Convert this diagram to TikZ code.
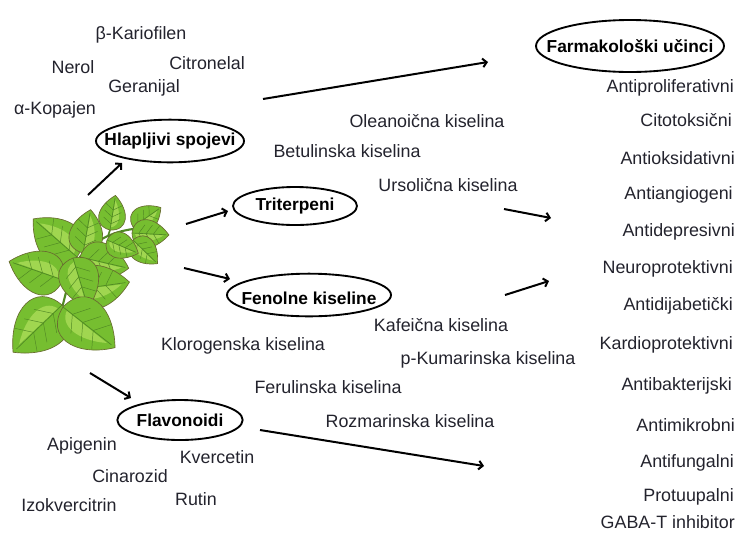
\documentclass[tikz,border=0pt]{standalone}
\usepackage{fontspec}
\setmainfont{Liberation Sans}
\usetikzlibrary{arrows.meta}
\definecolor{txt}{RGB}{35,35,45}
\definecolor{leafgreen}{RGB}{118,190,48}
\definecolor{leaflight}{RGB}{160,214,80}
\definecolor{leafedge}{RGB}{105,108,48}
\definecolor{leafvein}{RGB}{80,136,36}
\tikzset{
  lbl/.style={text=txt, font=\fontsize{13.4}{15}\selectfont, inner sep=0pt},
  effect/.style={lbl, anchor=east},
  grp/.style={font=\fontsize{13}{15}\selectfont\bfseries, inner sep=0pt},
  ring/.style={line width=1.4pt},
  arr/.style={-{Straight Barb[length=3pt,width=6.5pt]}, line width=1.5pt},
}
\newcommand{\mintleaf}[4]{%
  \begin{scope}[shift={(#1,#2)}, rotate=#3, scale=#4]
    \draw[fill=leafgreen, draw=leafedge, line width=0.5pt] (0,0) .. controls (0.05,0.52) and (0.6,0.5) .. (1,0) .. controls (0.6,-0.5) and (0.05,-0.52) .. (0,0);
    \fill[leaflight] (0.08,0.01) .. controls (0.14,0.26) and (0.5,0.26) .. (0.86,0.02) -- cycle;
    \draw[leafvein, line width=0.5pt] (0,0) -- (0.93,0);
    \foreach \t in {0.18,0.38,0.58} {
      \draw[leafvein, line width=0.35pt] (\t,0) -- (\t+0.16,0.24);
      \draw[leafvein, line width=0.35pt] (\t,0) -- (\t+0.16,-0.24);
    }
  \end{scope}}
\begin{document}
\begin{tikzpicture}[x=0.75pt, y=-0.75pt]
  \useasboundingbox (0,0) rectangle (738,533);
  % plant
  \draw[leafvein, line width=1.6pt] (62,308) .. controls (68,285) and (72,266) .. (80,257) .. controls (95,240) and (112,232) .. (133,229);
  \draw[leafvein, line width=1.2pt] (108,236) -- (110,230);
  \mintleaf{77}{257}{139}{58}
  \mintleaf{63}{280}{161}{57}
  \mintleaf{83}{253}{80}{44}
  \mintleaf{80}{257}{-13}{50}
  \mintleaf{73}{290}{8}{57}
  \mintleaf{110}{230}{81}{35}
  \mintleaf{133}{227}{35}{34}
  \mintleaf{132}{233}{-3}{37}
  \mintleaf{133}{240}{-44}{34}
  \mintleaf{107}{240}{-23}{34}
  \mintleaf{73}{258}{-73}{52}
  \mintleaf{62}{305}{-136}{68}
  \mintleaf{63}{307}{-38}{66}
  % volatile compounds
  \node[lbl] (kario) at (141,35) {β-Kariofilen};
  \node[lbl] (nerol) at (73,67) {Nerol};
  \node[lbl] (citro) at (207,63) {Citronelal};
  \node[lbl] (geran) at (144,88) {Geranijal};
  \node[lbl] (kopaj) at (55,110) {α-Kopajen};
  \node[grp] (hlap) at (170,141) {Hlapljivi spojevi};
  \draw[ring] (hlap.center) ellipse (55.5pt and 16pt);
  % triterpenes
  \node[lbl] (olean) at (427,121) {Oleanoična kiselina};
  \node[lbl] (betul) at (347,151) {Betulinska kiselina};
  \node[lbl] (ursol) at (448,185) {Ursolična kiselina};
  \node[grp] (trit) at (295,206) {Triterpeni};
  \draw[ring] (trit.center) ellipse (46.5pt and 14.25pt);
  % phenolic acids
  \node[grp] (fenol) at (309,298) {Fenolne kiseline};
  \draw[ring] (309,295) ellipse (61.5pt and 16pt);
  \node[lbl] (kafe) at (441,325) {Kafeična kiselina};
  \node[lbl] (kloro) at (243,346) {Klorogenska kiselina};
  \node[lbl] (kumar) at (488,360) {p-Kumarinska kiselina};
  \node[lbl] (ferul) at (328,387) {Ferulinska kiselina};
  \node[lbl] (rozma) at (410,421) {Rozmarinska kiselina};
  % flavonoids
  \node[grp] (flav) at (180,420) {Flavonoidi};
  \draw[ring] (flav.center) ellipse (47pt and 15pt);
  \node[lbl] (apig) at (82,446) {Apigenin};
  \node[lbl] (kverc) at (217,457) {Kvercetin};
  \node[lbl] (cinar) at (130,476) {Cinarozid};
  \node[lbl] (rutin) at (196,499) {Rutin};
  \node[lbl] (izokv) at (69,505) {Izokvercitrin};
  % effects
  \node[grp] (farm) at (630,46) {Farmakološki učinci};
  \draw[ring] (farm.center) ellipse (70.5pt and 19.5pt);
  \node[effect] (e1) at (734,88) {Antiproliferativni};
  \node[effect] (e2) at (732,120) {Citotoksični};
  \node[effect] (e3) at (735,158) {Antioksidativni};
  \node[effect] (e4) at (733,195) {Antiangiogeni};
  \node[effect] (e5) at (735,232) {Antidepresivni};
  \node[effect] (e6) at (733,269) {Neuroprotektivni};
  \node[effect] (e7) at (733,306) {Antidijabetički};
  \node[effect] (e8) at (733,345) {Kardioprotektivni};
  \node[effect] (e9) at (732,386) {Antibakterijski};
  \node[effect] (e10) at (735,425) {Antimikrobni};
  \node[effect] (e11) at (734,463) {Antifungalni};
  \node[effect] (e12) at (734,497) {Protuupalni};
  \node[effect] (e13) at (735,522) {GABA-T inhibitor};
  % arrows
  \coordinate (p1) at (88,195);
  \coordinate (p2) at (186,224);
  \coordinate (p3) at (184,268);
  \coordinate (p4) at (90,373);
  \coordinate (hl-in) at (122,163);
  \coordinate (tr-in) at (228,211);
  \coordinate (fe-in) at (230,279);
  \coordinate (fl-in) at (131,398);
  \coordinate (hl-out) at (263,99);
  \coordinate (fa-in) at (488,62);
  \coordinate (tr-out) at (504,209);
  \coordinate (tr-end) at (551,218);
  \coordinate (fe-out) at (505,295);
  \coordinate (fe-end) at (549,281);
  \coordinate (fl-out) at (260,430);
  \coordinate (fl-end) at (484,466);
  \draw[arr] (p1) -- (hl-in);
  \draw[arr] (p2) -- (tr-in);
  \draw[arr] (p3) -- (fe-in);
  \draw[arr] (p4) -- (fl-in);
  \draw[arr] (hl-out) -- (fa-in);
  \draw[arr] (tr-out) -- (tr-end);
  \draw[arr] (fe-out) -- (fe-end);
  \draw[arr] (fl-out) -- (fl-end);
\end{tikzpicture}
\end{document}
